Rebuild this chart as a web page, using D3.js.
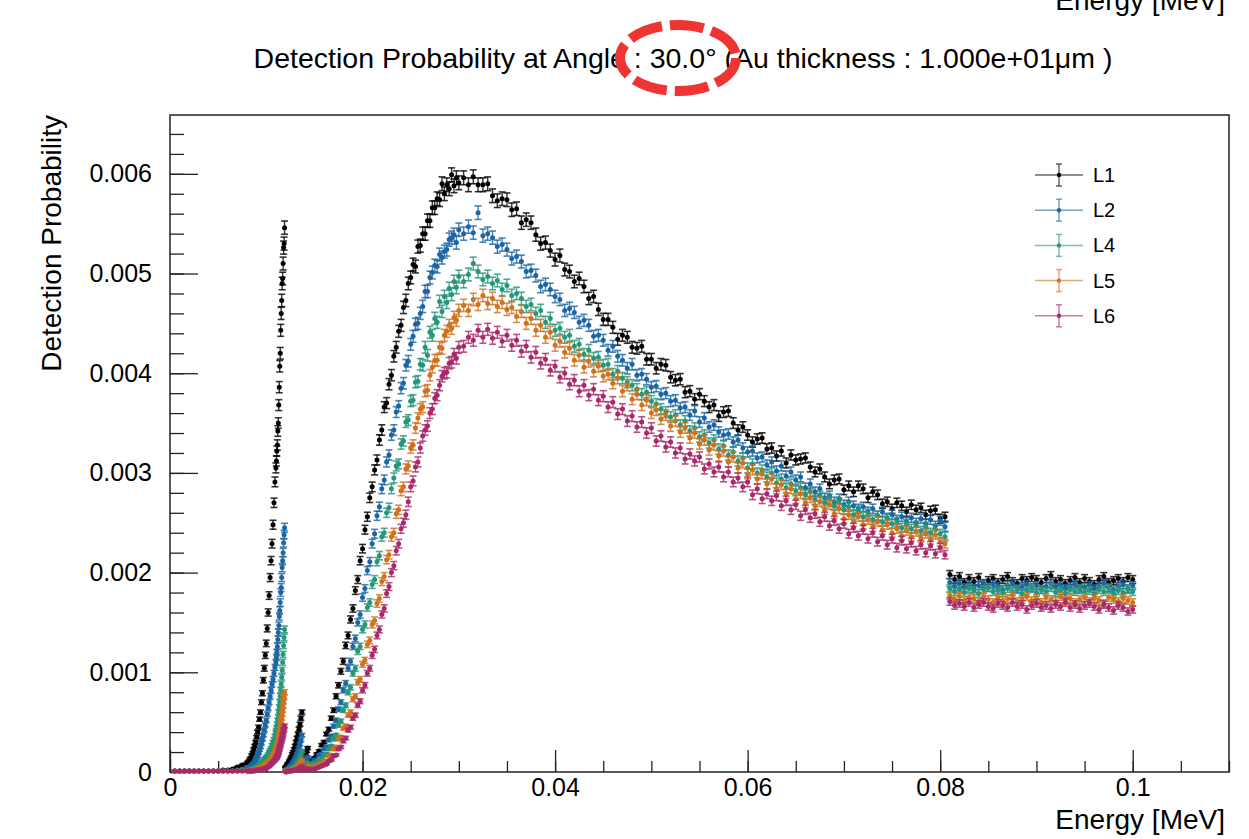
<!DOCTYPE html>
<html>
<head>
<meta charset="utf-8">
<script src="https://cdn.jsdelivr.net/npm/d3@7"></script>
<style>
  body { margin: 0; background: #fff; }
  svg { display: block; }
  text { font-family: "Liberation Sans", Arial, Helvetica, sans-serif; fill: #000; }
</style>
</head>
<body>
<div id="chart"></div>
<script>
// Photon energy of each point (keV)
const energyKeV = [
  0.5,1,1.5,2,2.5,3,3.5,4,4.5,5,5.5,6,6.5,7,7.5,8,
  8.1,8.2,8.3,8.4,8.5,8.6,8.7,8.8,8.9,9,9.1,9.2,9.3,9.4,9.5,9.6,9.7,9.8,9.9,10,10.1,10.2,10.3,10.4,10.5,10.6,10.7,10.8,10.9,
  11,11.05,11.1,11.15,11.2,11.25,11.3,11.35,11.4,11.45,11.5,11.55,11.6,11.65,11.7,11.75,11.8,11.85,11.9,
  12,12.1,12.2,12.3,12.4,12.5,12.6,12.7,12.8,12.9,13,13.1,13.2,13.3,13.4,13.5,13.6,13.7,
  13.8,13.9,14,14.1,14.2,14.3,
  14.5,14.75,15,15.25,15.5,15.75,16,16.25,16.5,16.75,17,17.25,17.5,17.75,18,18.25,18.5,18.75,19,19.25,19.5,19.75,20,20.25,20.5,20.75,21,21.25,21.5,21.75,22,22.25,22.5,22.75,23,23.25,23.5,23.75,24,24.25,24.5,24.75,25,25.25,25.5,25.75,26,26.25,26.5,26.75,27,27.25,27.5,27.75,28,28.25,28.5,28.75,29,29.25,29.5,29.75,30,
  30.5,31,31.5,32,32.5,33,33.5,34,34.5,35,35.5,36,36.5,37,37.5,38,38.5,39,39.5,40,40.5,41,41.5,42,42.5,43,43.5,44,44.5,45,45.5,46,46.5,47,47.5,48,48.5,49,49.5,50,50.5,51,51.5,52,52.5,53,53.5,54,54.5,55,55.5,56,56.5,57,57.5,58,58.5,59,59.5,60,60.5,61,61.5,62,62.5,63,63.5,64,64.5,65,65.5,66,66.5,67,67.5,68,68.5,69,69.5,70,70.5,71,71.5,72,72.5,73,73.5,74,74.5,75,75.5,76,76.5,77,77.5,78,78.5,79,79.5,80,80.5,
  81,81.5,82,82.5,83,83.5,84,84.5,85,85.5,86,86.5,87,87.5,88,88.5,89,89.5,90,90.5,91,91.5,92,92.5,93,93.5,94,94.5,95,95.5,96,96.5,97,97.5,98,98.5,99,99.5,100
];

// Detection probability per layer, in units of 1e-5
const probL1 = [
  1,1,1,1,1,1,1,1,1,1,2,2,3,5,7,9,
  10,11,13,14,17,19,23,26,30,35,40,45,53,60,70,79,92,104,117,129,144,160,177,195,212,229,248,270,291,
  305,312,322,328,342,350,368,386,407,420,443,460,473,490,495,510,526,530,546,
  5,6,8,9,11,13,15,18,20,23,26,30,34,38,43,48,54,60,
  12,14,16,18,21,24,
  10,12,14,18,21,27,30,38,43,54,62,76,87,101,111,127,137,153,164,182,193,212,224,243,256,275,286,303,313,333,
  343,366,370,389,398,417,426,442,448,466,473,490,496,509,507,527,528,540,540,553,553,566,566,575,574,590,580,589,585,599,
  588,596,591,
  596,589,597,589,589,590,578,573,575,574,564,565,551,554,551,539,530,531,523,514,
  518,504,502,492,495,487,475,477,464,454,454,446,434,438,436,426,425,427,414,414,
  405,409,408,396,393,394,381,382,374,379,372,366,368,357,361,362,350,343,346,338,
  331,334,335,324,325,317,322,310,318,313,314,315,306,301,304,296,289,293,294,283,
  287,281,287,284,275,281,278,269,271,264,270,267,261,268,263,265,258,262,263,254,256,
  198,193,196,190,194,191,195,189,192,194,190,193,196,191,189,194,192,195,193,190,
  194,197,191,193,189,192,195,190,194,191,188,193,196,190,192,194,191,195,193
];
const probL2 = [
  1,1,1,1,1,1,1,1,1,1,1,1,1,2,3,4,
  4,5,5,6,7,8,9,10,12,14,16,19,22,25,29,33,37,42,47,52,58,64,70,76,82,88,93,99,105,
  110,115,120,126,133,140,147,156,162,170,180,185,195,205,212,220,230,238,245,
  2,3,3,4,5,6,7,8,10,11,13,15,18,21,24,28,32,37,
  8,9,10,12,13,15,
  8,9,12,12,17,18,23,25,32,36,46,52,63,70,82,89,104,111,126,134,150,158,175,184,202,211,229,239,257,266,
  284,293,311,318,338,343,361,367,385,390,408,412,429,437,449,450,460,467,482,482,496,501,508,507,519,516,522,524,534,536,
  539,531,544,
  540,547,541,561,538,540,536,527,529,524,515,517,512,502,503,498,487,489,484,477,
  474,463,465,461,451,453,448,437,438,433,423,427,417,413,405,409,398,399,394,386,
  387,379,380,372,373,365,366,358,362,351,355,346,348,341,338,339,331,333,325,321,
  322,315,316,308,311,302,307,297,301,293,296,285,289,281,284,275,277,271,274,268,
  271,267,264,266,261,264,257,261,254,258,253,256,251,255,250,254,249,253,247,252,246,
  190,186,189,185,188,184,187,189,185,188,186,183,187,189,184,186,188,185,187,183,
  186,189,185,187,184,186,188,183,185,187,184,186,189,185,183,186,188,184,187
];
const probL4 = [
  1,1,1,1,1,1,1,1,1,1,1,1,1,1,2,2,
  2,2,2,3,3,3,4,4,5,5,6,7,8,9,10,11,12,13,14,15,16,18,20,22,24,27,30,33,36,
  40,42,45,48,52,55,60,65,70,76,82,88,95,102,110,118,127,135,143,
  1,1,2,2,2,3,3,4,5,5,6,7,9,10,12,14,17,21,
  5,5,6,7,8,9,
  6,7,9,9,12,13,17,18,23,26,33,37,47,51,62,67,80,85,99,104,121,126,143,148,165,170,188,193,211,217,
  236,240,260,265,284,295,307,309,329,332,351,353,372,373,391,392,409,408,426,418,441,438,455,451,472,462,477,471,485,479,
  492,486,497,
  492,499,510,502,494,497,490,493,484,488,478,480,475,467,469,460,463,451,455,443,
  445,436,438,427,429,419,423,415,416,408,409,399,402,395,391,388,384,379,381,372,
  369,364,361,356,358,348,352,342,345,336,338,330,333,324,327,318,321,312,315,305,
  309,300,303,296,300,290,294,285,289,282,285,278,281,273,277,270,274,267,270,263,
  266,258,262,256,259,253,257,251,255,249,251,245,249,244,247,242,246,240,243,239,236,
  184,181,183,180,184,182,179,183,185,181,182,180,184,181,183,179,182,184,180,183,
  181,185,180,182,179,183,181,184,180,182,178,183,181,184,179,182,180,183,181
];
const probL5 = [
  1,1,1,1,1,1,1,1,1,1,1,1,1,1,1,1,
  1,1,1,1,2,2,2,2,3,3,3,4,4,5,5,6,6,7,8,8,9,10,11,12,13,15,16,18,20,
  22,23,25,27,29,31,34,37,40,43,47,51,54,58,62,66,71,75,80,
  1,1,1,1,1,2,2,2,3,3,4,4,5,6,7,8,10,12,
  3,3,4,4,5,6,
  4,5,5,6,8,7,11,11,16,17,23,25,33,35,44,46,57,60,73,76,90,93,108,112,128,132,148,152,169,174,
  191,196,213,218,236,240,259,263,282,286,304,307,325,328,345,355,364,366,382,383,398,406,413,413,426,425,438,442,448,445,
  456,453,463,
  468,463,474,469,478,470,475,467,471,464,466,457,462,450,455,443,448,436,441,428,
  432,421,425,413,418,406,412,402,407,397,399,390,395,382,388,374,379,368,373,360,
  363,354,358,347,352,341,345,335,340,329,333,323,328,317,322,311,316,305,310,299,
  303,294,299,289,294,284,288,279,284,274,279,270,275,267,271,263,268,259,264,254,
  258,251,256,248,253,246,251,243,248,240,244,237,242,236,241,235,239,233,238,231,229,
  177,173,176,172,175,174,171,176,173,170,175,172,174,177,171,173,176,172,174,170,
  175,173,171,176,172,174,170,173,175,171,174,172,169,175,173,171,174,172,170
];
const probL6 = [
  1,1,1,1,1,1,1,1,1,1,1,1,1,1,1,1,
  1,1,1,1,1,1,1,1,2,2,2,2,2,2,3,3,3,3,3,4,5,5,6,7,8,9,10,11,12,
  13,14,15,16,17,19,20,22,24,26,28,30,32,34,36,38,41,43,46,
  0,0,1,1,1,1,1,1,2,2,2,2,3,3,4,4,5,6,
  2,2,2,3,3,3,
  3,3,3,4,5,6,7,8,11,12,16,17,23,25,31,34,42,45,54,57,67,71,82,87,99,104,117,123,137,143,
  158,164,179,186,200,207,222,229,244,250,258,271,286,292,306,311,325,337,343,347,360,364,375,378,388,397,400,401,410,411,
  419,415,426,
  427,436,433,443,436,444,435,441,432,438,428,433,422,427,416,421,410,414,403,407,
  396,400,389,393,382,388,378,384,373,377,366,371,359,364,352,357,346,351,340,345,
  332,337,326,331,320,325,314,319,312,316,304,309,301,306,296,301,291,295,286,291,
  278,284,274,279,272,277,267,272,263,268,257,263,255,259,251,256,247,252,244,249,
  239,245,237,243,234,240,231,237,228,234,225,232,224,230,222,228,220,227,219,225,218,
  171,167,169,166,170,165,168,170,166,164,169,167,165,170,166,168,163,167,169,165,
  167,164,168,166,170,165,168,164,167,169,166,163,168,165,162,167,165,161,163
];

const seriesNames = ['L1', 'L2', 'L4', 'L5', 'L6'];
const seriesColors = ['#000000', '#1b65a3', '#25967a', '#cf721d', '#a8296a'];
const seriesProb = [probL1, probL2, probL4, probL5, probL6];

const xTickValues = [0, 0.02, 0.04, 0.06, 0.08, 0.1];
const yTickValues = [0, 0.001, 0.002, 0.003, 0.004, 0.005, 0.006];

// statistical error ~ errScale * sqrt(p)
const errScale = 9e-4;

seriesProb.forEach((arr, i) => {
  if (arr.length !== energyKeV.length) throw new Error(seriesNames[i] + ' has ' + arr.length + ' points, expected ' + energyKeV.length);
});

const series = seriesNames.map((name, i) => ({
  name: name,
  color: seriesColors[i],
  points: energyKeV.map((e, j) => ({ e: e / 1000, p: seriesProb[i][j] * 1e-5 }))
}));

const width = 1249;
const height = 839;
const margin = { top: 115, right: 20, bottom: 67, left: 170 };
const chartWidth = width - margin.left - margin.right;
const chartHeight = height - margin.top - margin.bottom;

const svg = d3.select('#chart').append('svg')
  .attr('width', width)
  .attr('height', height);

svg.append('rect')
  .attr('width', width)
  .attr('height', height)
  .attr('fill', '#fff');

const g = svg.append('g')
  .attr('transform', `translate(${margin.left},${margin.top})`);

const x = d3.scaleLinear()
  .domain([0, 0.11])
  .range([0, chartWidth]);
const y = d3.scaleLinear()
  .domain([0, 0.00659])
  .range([chartHeight, 0]);

// minor ticks
g.append('g')
  .attr('transform', `translate(0,${chartHeight})`)
  .call(d3.axisBottom(x).tickValues(d3.range(0, 0.1101, 0.005)).tickSize(-11).tickFormat(''))
  .call(a => a.select('.domain').remove());
g.append('g')
  .call(d3.axisLeft(y).tickValues(d3.range(0, 0.0066, 0.0002)).tickSize(-14).tickFormat(''))
  .call(a => a.select('.domain').remove());

// major ticks + labels
g.append('g')
  .attr('transform', `translate(0,${chartHeight})`)
  .call(d3.axisBottom(x).tickValues(xTickValues).tickSize(-22).tickPadding(6).tickFormat(d3.format('~g')))
  .call(a => a.select('.domain').remove())
  .call(a => a.selectAll('text').attr('font-size', 25).attr('fill', '#000'));
g.append('g')
  .call(d3.axisLeft(y).tickValues(yTickValues).tickSize(-28).tickPadding(18)
    .tickFormat(d => d === 0 ? '0' : d3.format('.3f')(d)))
  .call(a => a.select('.domain').remove())
  .call(a => a.selectAll('text').attr('font-size', 25).attr('fill', '#000'));

g.selectAll('.tick line').attr('stroke', '#222').attr('stroke-width', 1.3);

// frame
g.append('rect')
  .attr('width', chartWidth)
  .attr('height', chartHeight)
  .attr('fill', 'none')
  .attr('stroke', '#222')
  .attr('stroke-width', 1.5);

const plot = g.append('g');
const err = p => errScale * Math.sqrt(p);

series.forEach(s => {
  const sg = plot.append('g');
  sg.selectAll('line.bar').data(s.points).join('line')
    .attr('x1', d => x(d.e)).attr('x2', d => x(d.e))
    .attr('y1', d => y(d.p + err(d.p))).attr('y2', d => y(d.p - err(d.p)))
    .attr('stroke', s.color).attr('stroke-opacity', 0.8).attr('stroke-width', 1.4);
  sg.selectAll('line.capTop').data(s.points).join('line')
    .attr('x1', d => x(d.e) - 3.5).attr('x2', d => x(d.e) + 3.5)
    .attr('y1', d => y(d.p + err(d.p))).attr('y2', d => y(d.p + err(d.p)))
    .attr('stroke', s.color).attr('stroke-opacity', 0.8).attr('stroke-width', 1.6);
  sg.selectAll('line.capBot').data(s.points).join('line')
    .attr('x1', d => x(d.e) - 3.5).attr('x2', d => x(d.e) + 3.5)
    .attr('y1', d => y(d.p - err(d.p))).attr('y2', d => y(d.p - err(d.p)))
    .attr('stroke', s.color).attr('stroke-opacity', 0.8).attr('stroke-width', 1.6);
  sg.selectAll('circle').data(s.points).join('circle')
    .attr('cx', d => x(d.e))
    .attr('cy', d => y(d.p))
    .attr('r', 2.5)
    .attr('fill', s.color);
});

// legend
const legend = svg.append('g')
  .attr('transform', 'translate(1035,175)');
series.forEach((s, i) => {
  const row = legend.append('g').attr('transform', `translate(0,${i * 35.2})`);
  row.append('line')
    .attr('x1', 0).attr('x2', 48).attr('y1', 0).attr('y2', 0)
    .attr('stroke', s.color).attr('stroke-opacity', 0.6).attr('stroke-width', 1.5);
  row.append('line')
    .attr('x1', 24).attr('x2', 24).attr('y1', -11).attr('y2', 11)
    .attr('stroke', s.color).attr('stroke-opacity', 0.6).attr('stroke-width', 1.5);
  row.append('line')
    .attr('x1', 21).attr('x2', 27).attr('y1', -11).attr('y2', -11)
    .attr('stroke', s.color).attr('stroke-opacity', 0.6).attr('stroke-width', 1.5);
  row.append('line')
    .attr('x1', 21).attr('x2', 27).attr('y1', 11).attr('y2', 11)
    .attr('stroke', s.color).attr('stroke-opacity', 0.6).attr('stroke-width', 1.5);
  row.append('circle')
    .attr('cx', 24).attr('cy', 0).attr('r', 2.2)
    .attr('fill', s.color);
  row.append('text')
    .attr('x', 58).attr('y', 0)
    .attr('dominant-baseline', 'central')
    .attr('font-size', 20)
    .text(s.name);
});

// titles
svg.append('text')
  .attr('x', 683).attr('y', 68)
  .attr('text-anchor', 'middle')
  .attr('font-size', 28.5)
  .text('Detection Probability at Angle : 30.0\u00b0 (Au thickness : 1.000e+01\u03bcm )');

svg.append('text')
  .attr('x', 1225).attr('y', 10)
  .attr('text-anchor', 'end')
  .attr('font-size', 28)
  .text('Energy [MeV]');

svg.append('text')
  .attr('x', 1225).attr('y', 829)
  .attr('text-anchor', 'end')
  .attr('font-size', 28)
  .text('Energy [MeV]');

svg.append('text')
  .attr('transform', `translate(61,${margin.top}) rotate(-90)`)
  .attr('text-anchor', 'end')
  .attr('font-size', 28)
  .text('Detection Probability');

// red dashed ring drawn over the title
svg.append('ellipse')
  .attr('cx', 678).attr('cy', 58)
  .attr('rx', 58).attr('ry', 33)
  .attr('fill', 'none')
  .attr('stroke', '#ef3434')
  .attr('stroke-width', 10)
  .attr('stroke-dasharray', '34 8');
</script>
</body>
</html>
